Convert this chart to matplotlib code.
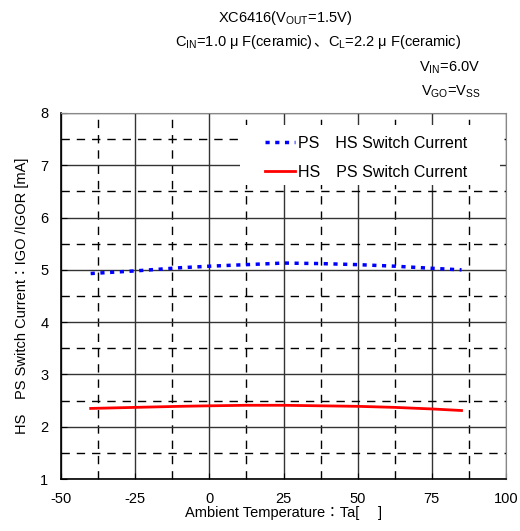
import matplotlib
matplotlib.use("Agg")
from matplotlib import pyplot as plt
from matplotlib.patches import Rectangle
from matplotlib.ticker import MultipleLocator

plt.rcParams["font.family"] = ["Liberation Sans", "Noto Sans CJK JP", "DejaVu Sans"]
plt.rcParams["mathtext.fontset"] = "custom"
plt.rcParams["mathtext.rm"] = "Liberation Sans"
plt.rcParams["mathtext.default"] = "regular"
plt.rcParams["axes.unicode_minus"] = False

# PS / HS switch current (blue dotted)
temp_ps = [-40, -25, -10, 0, 12.5, 25, 37.5, 50, 62.5, 75, 85]
cur_ps = [4.93, 4.98, 5.04, 5.07, 5.10, 5.13, 5.12, 5.10, 5.07, 5.03, 5.00]

# HS / PS switch current (red solid)
temp_hs = [-40, -25, -10, 0, 12.5, 25, 37.5, 50, 62.5, 75, 85]
cur_hs = [2.35, 2.37, 2.39, 2.40, 2.41, 2.41, 2.40, 2.39, 2.37, 2.34, 2.31]

xticks = [-50, -25, 0, 25, 50, 75, 100]
yticks = [1, 2, 3, 4, 5, 6, 7, 8]

fig = plt.figure(figsize=(5.2, 5.31), dpi=100)
ax = fig.add_axes([0.1173, 0.0979, 0.8558, 0.6893])

ax.plot(temp_ps, cur_ps, color="#0000ff", lw=2.5, ls=(0, (1.2, 1.6)),
        label="PS\u3000HS Switch Current", zorder=3)
ax.plot(temp_hs, cur_hs, color="#ff0000", lw=2, label="HS\u3000PS Switch Current", zorder=3)

ax.set_xlim(-50, 100)
ax.set_ylim(1, 8)
ax.set_xticks(xticks)
ax.set_yticks(yticks)
ax.xaxis.set_minor_locator(MultipleLocator(12.5))
ax.yaxis.set_minor_locator(MultipleLocator(0.5))
ax.grid(which="major", color="#333333", lw=1, ls="-")
ax.grid(which="minor", color="#000000", lw=1, ls=(0, (6, 5)))
ax.tick_params(which="both", direction="in", length=4, labelsize=10.5, colors="#000000")
ax.tick_params(axis="x", pad=9)
ax.tick_params(axis="y", pad=9)
for side in ["top", "right"]:
    ax.spines[side].set_color("#888888")
for side in ["left", "bottom"]:
    ax.spines[side].set_linewidth(1.2)

ax.set_xlabel("Ambient Temperature：Ta[\u3000 ]", fontsize=10.5, labelpad=0)
ax.set_ylabel("HS\u3000PS Switch Current：IGO /IGOR [mA]", fontsize=10.5, labelpad=8)

# white legend area
ax.add_patch(Rectangle((0.402, 0.803), 0.585, 0.164, transform=ax.transAxes,
                       facecolor="white", edgecolor="none", zorder=2))
leg = ax.legend(loc="upper left", bbox_to_anchor=(0.458, 0.937), fontsize=11.5,
                frameon=False, handlelength=1.9, handletextpad=0.15,
                borderpad=0, labelspacing=0.87, borderaxespad=0)

fig.text(0.548, 0.967, r"XC6416(V$_{OUT}$=1.5V)", ha="center", va="center", fontsize=10.5)

# second header line: pieces so that the CJK comma gets a CJK font
renderer = fig.canvas.get_renderer()
x0 = 0.337
pieces = [r"C$_{IN}$=1.0 μ F(ceramic)", "、", r"C$_{L}$=2.2 μ F(ceramic)"]
for piece in pieces:
    t = fig.text(x0, 0.920, piece, ha="left", va="center", fontsize=10.5)
    bb = t.get_window_extent(renderer)
    x0 += bb.width / fig.bbox.width

fig.text(0.924, 0.873, r"V$_{IN}$=6.0V", ha="right", va="center", fontsize=10.5)
fig.text(0.924, 0.828, r"V$_{GO}$=V$_{SS}$", ha="right", va="center", fontsize=10.5)

fig.savefig("out.png", dpi=100)
